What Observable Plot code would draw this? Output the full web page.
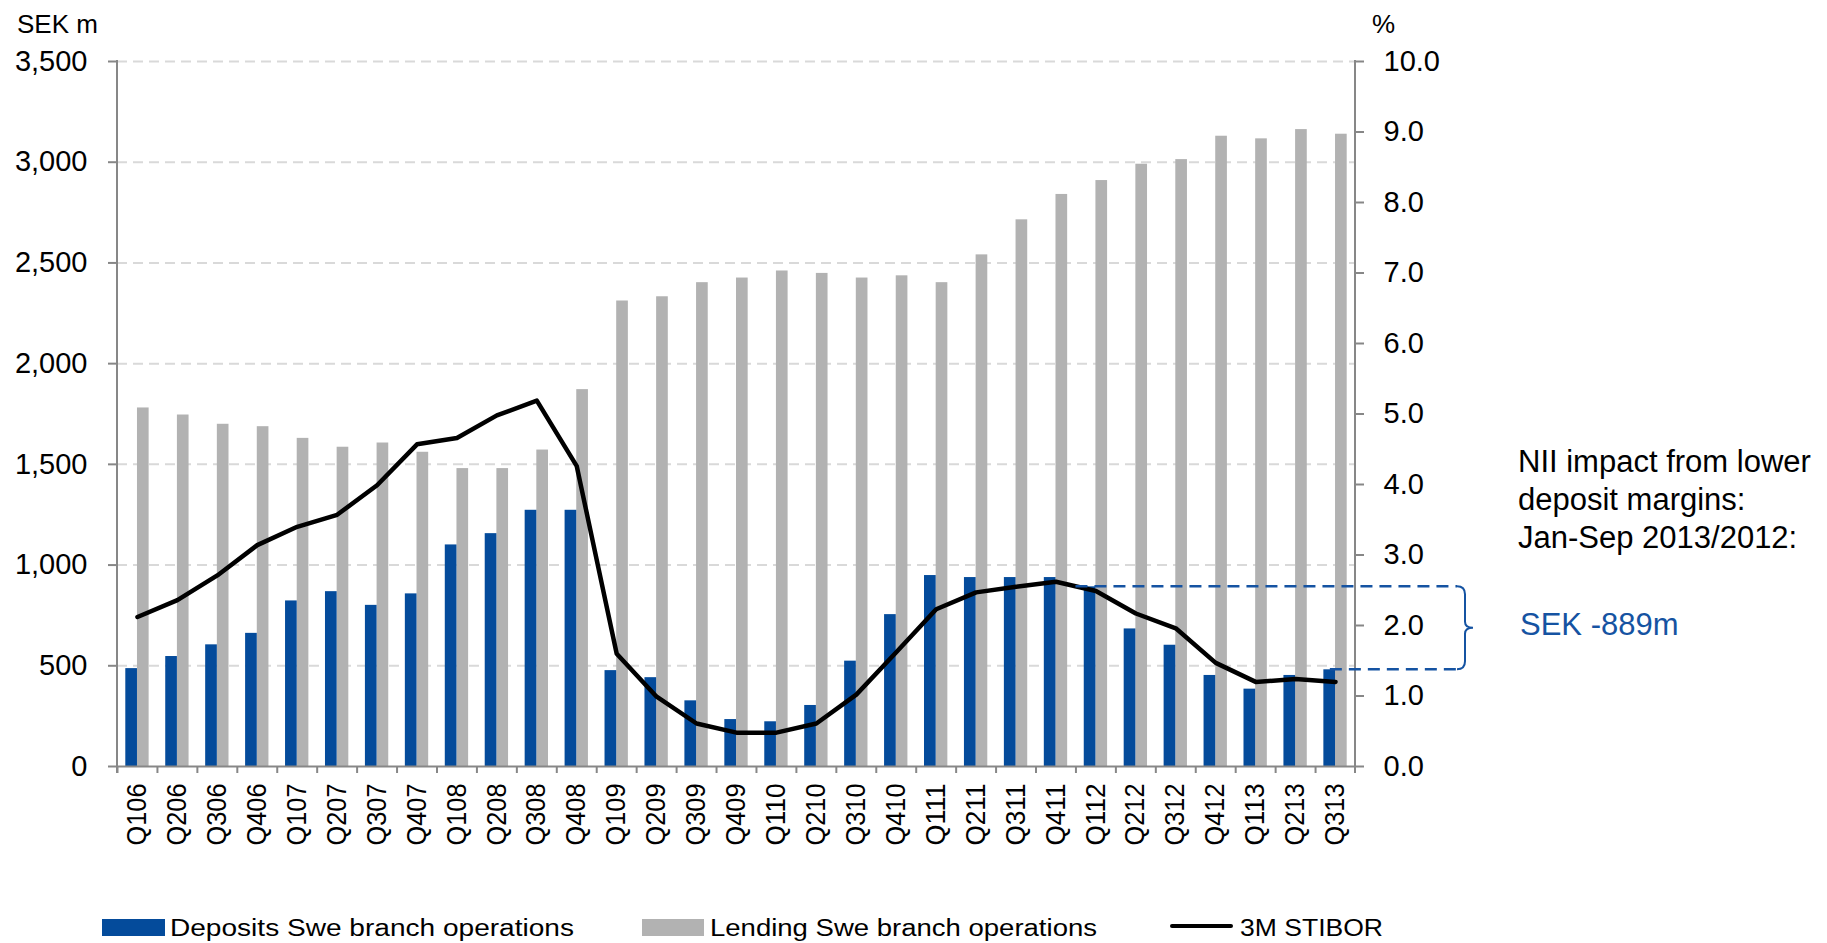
<!DOCTYPE html>
<html>
<head>
<meta charset="utf-8">
<script src="https://cdn.jsdelivr.net/npm/d3@7"></script>
<script src="https://cdn.jsdelivr.net/npm/@observablehq/plot@0.6"></script>
<style>
  html, body { margin: 0; padding: 0; background: #fff; overflow: hidden; }
  svg { display: block; }
</style>
</head>
<body>
<div id="chart"></div>
<script>
// Quarterly deposits and lending volumes (SEK m) with the 3M STIBOR rate (%)
const quarters = ["Q106","Q206","Q306","Q406","Q107","Q207","Q307","Q407","Q108","Q208","Q308","Q408",
  "Q109","Q209","Q309","Q409","Q110","Q210","Q310","Q410","Q111","Q211","Q311","Q411",
  "Q112","Q212","Q312","Q412","Q113","Q213","Q313"];
const deposits = [486, 546, 604, 661, 822, 868, 800, 857, 1100, 1156, 1272, 1272,
  476, 441, 326, 233, 222, 303, 523, 754, 948, 938, 938, 938,
  892, 683, 602, 452, 384, 452, 480];
const lending = [1780, 1745, 1699, 1687, 1629, 1585, 1606, 1560, 1479, 1479, 1571, 1871,
  2311, 2332, 2402, 2425, 2460, 2448, 2425, 2436, 2402, 2540, 2714, 2840,
  2909, 2990, 3013, 3129, 3116, 3162, 3139];
const stibor = [2.12, 2.36, 2.71, 3.14, 3.40, 3.57, 3.99, 4.57, 4.66, 4.98, 5.19, 4.26,
  1.60, 0.99, 0.61, 0.48, 0.48, 0.61, 1.02, 1.62, 2.23, 2.47, 2.55, 2.62,
  2.49, 2.17, 1.96, 1.47, 1.20, 1.24, 1.20];
const leftTicks = [0, 500, 1000, 1500, 2000, 2500, 3000, 3500];
const rightTicks = [0, 1, 2, 3, 4, 5, 6, 7, 8, 9, 10];
const seriesNames = ["Deposits Swe branch operations", "Lending Swe branch operations", "3M STIBOR"];
const bracketFrom = "Q112", bracketTo = "Q313";
const noteLines = ["NII impact from lower", "deposit margins:", "Jan-Sep 2013/2012:"];
const noteValue = "SEK -889m";

const rows = quarters.map((q, i) => ({q, deposits: deposits[i], lending: lending[i], stibor: stibor[i]}));

const BLUE = "#044b9b", GREY = "#b2b2b2", AXIS = "#878787", GRID = "#d9d9d9", NOTE = "#1553a2";
const FONT = "'Liberation Sans', Arial, sans-serif";
const W = 1827, H = 895;
const mL = 117, mR = 472, mT = 61, mB = H - 766;
const bw = (W - mR - mL) / quarters.length;
const rateToLeft = 3500 / 10; // right axis 0–10 % maps onto left axis 0–3,500
const gap = 8.3;

const plot = Plot.plot({
  width: W, height: H,
  marginLeft: mL, marginRight: mR, marginTop: mT, marginBottom: mB,
  style: {fontFamily: FONT, background: "#fff", color: "#000", overflow: "visible"},
  x: {domain: quarters, padding: 0, round: false, label: null},
  y: {domain: [0, 3500], label: null},
  marks: [
    Plot.ruleY(leftTicks.filter(d => d > 0), {stroke: GRID, strokeWidth: 2, strokeDasharray: "10,6"}),
    Plot.barY(rows, {x: "q", y: "lending", fill: GREY, insetLeft: bw / 2, insetRight: gap}),
    Plot.barY(rows, {x: "q", y: "deposits", fill: BLUE, insetLeft: gap, insetRight: bw / 2}),
    Plot.ruleY([0], {stroke: AXIS, strokeWidth: 2}),
    Plot.lineY(rows, {x: "q", y: d => d.stibor * rateToLeft, stroke: "#000", strokeWidth: 4.5,
      strokeLinejoin: "round", strokeLinecap: "round"}),
    Plot.axisY({anchor: "left", ticks: leftTicks, tickFormat: d3.format(","), tickSize: 9, tickPadding: 21,
      fontSize: 29, stroke: AXIS, strokeWidth: 2, fill: "#000"}),
    Plot.axisY({anchor: "right", ticks: rightTicks.map(v => v * rateToLeft),
      tickFormat: d => (d / rateToLeft).toFixed(1), tickSize: 8, tickPadding: 20,
      fontSize: 29, stroke: AXIS, strokeWidth: 2, fill: "#000"}),
    Plot.axisX({anchor: "bottom", tickSize: 7, dx: -bw / 2, fill: "none", stroke: AXIS, strokeWidth: 2}),
    Plot.axisX({anchor: "bottom", tickSize: 0, tickPadding: 17, tickRotate: -90, fontSize: 27, fill: "#000"})
  ]
});

document.getElementById("chart").appendChild(plot);

const xs = plot.scale("x"), ys = plot.scale("y");
const [xl, xr] = xs.range;
const svg = d3.select(plot);

// condensed quarter labels
svg.selectAll('g[aria-label="x-axis tick label"] text')
  .filter(function () { return this.textContent.length > 0; })
  .attr("textLength", 62).attr("lengthAdjust", "spacingAndGlyphs");

// vertical axis lines
[xl, xr].forEach(x => {
  svg.append("line").attr("x1", x).attr("x2", x)
    .attr("y1", ys.apply(3500) - 1).attr("y2", ys.apply(0) + 7)
    .attr("stroke", AXIS).attr("stroke-width", 2);
});

// annotation layer with left-aligned text
const ann = svg.append("g").attr("font-family", FONT).attr("text-anchor", "start");

// axis titles
ann.append("text").attr("x", 17).attr("y", 33).attr("font-size", 26).attr("fill", "#000").text("SEK m");
ann.append("text").attr("x", xr + 17).attr("y", 33).attr("font-size", 26).attr("fill", "#000").text("%");

// bracket showing the fall in deposit volumes
const yTop = ys.apply(deposits[quarters.indexOf(bracketFrom)]);
const yBot = ys.apply(deposits[quarters.indexOf(bracketTo)]);
const bx = xr + 102;
ann.append("line").attr("x1", xs.apply(bracketFrom)).attr("x2", bx).attr("y1", yTop).attr("y2", yTop)
  .attr("stroke", NOTE).attr("stroke-width", 2.5).attr("stroke-dasharray", "12,7");
ann.append("line").attr("x1", xs.apply(bracketTo) + bw * 0.37).attr("x2", bx).attr("y1", yBot).attr("y2", yBot)
  .attr("stroke", NOTE).attr("stroke-width", 2.5).attr("stroke-dasharray", "12,7");
const mid = (yTop + yBot) / 2;
ann.append("path")
  .attr("d", `M${bx},${yTop} Q${bx + 8},${yTop} ${bx + 8},${yTop + 8} L${bx + 8},${mid - 6} ` +
    `Q${bx + 8},${mid} ${bx + 16},${mid} Q${bx + 8},${mid} ${bx + 8},${mid + 6} ` +
    `L${bx + 8},${yBot - 8} Q${bx + 8},${yBot} ${bx},${yBot}`)
  .attr("fill", "none").attr("stroke", NOTE).attr("stroke-width", 2);

// note text
const note = ann.append("text").attr("font-size", 31).attr("fill", "#000");
noteLines.forEach((t, i) => note.append("tspan").attr("x", xr + 163).attr("y", 471.7 + i * 38.3).text(t));
ann.append("text").attr("x", xr + 165).attr("y", mid + 7)
  .attr("font-size", 31).attr("fill", NOTE).text(noteValue);

// legend below the chart
const legend = d3.select("body").append("svg").attr("width", W).attr("height", 48);
const lt = legend.append("g").attr("font-family", FONT).attr("font-size", 23).attr("fill", "#000").attr("text-anchor", "start");
legend.append("rect").attr("x", 102).attr("y", 24).attr("width", 63).attr("height", 17).attr("fill", BLUE);
lt.append("text").attr("x", 170).attr("y", 41).attr("textLength", 404).attr("lengthAdjust", "spacingAndGlyphs").text(seriesNames[0]);
legend.append("rect").attr("x", 642).attr("y", 24).attr("width", 62).attr("height", 17).attr("fill", GREY);
lt.append("text").attr("x", 710).attr("y", 41).attr("textLength", 387).attr("lengthAdjust", "spacingAndGlyphs").text(seriesNames[1]);
legend.append("line").attr("x1", 1172).attr("x2", 1231).attr("y1", 31).attr("y2", 31)
  .attr("stroke", "#000").attr("stroke-width", 4).attr("stroke-linecap", "round");
lt.append("text").attr("x", 1240).attr("y", 41).attr("textLength", 143).attr("lengthAdjust", "spacingAndGlyphs").text(seriesNames[2]);
</script>
</body>
</html>
